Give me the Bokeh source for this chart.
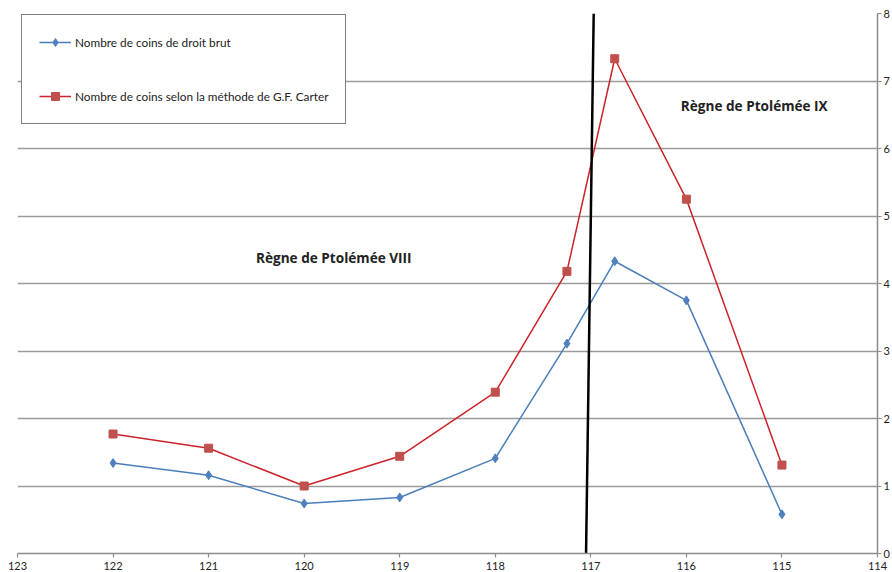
from bokeh.plotting import figure
from bokeh.models import Range1d, FixedTicker, Legend, LegendItem, ColumnDataSource
from bokeh.core.properties import value
from bokeh.embed import file_html
from bokeh.resources import INLINE

# ---- data ----
years = [122, 121, 120, 119, 118, 117.25, 116.75, 116, 115]
raw_counts = [1.34, 1.16, 0.74, 0.83, 1.41, 3.11, 4.33, 3.75, 0.58]
carter_counts = [1.77, 1.56, 1.00, 1.44, 2.39, 4.18, 7.33, 5.25, 1.31]
x_ticks = [123, 122, 121, 120, 119, 118, 117, 116, 115, 114]
y_ticks = [0, 1, 2, 3, 4, 5, 6, 7, 8]
boundary_x = [116.97, 117.05]
boundary_y = [8, 0]
labels_text = ["Règne de Ptolémée VIII", "Règne de Ptolémée IX"]
labels_x = [119.69, 115.29]
labels_y = [4.39, 6.63]

FONT = "Lato"

p = figure(width=892, height=572, output_backend="svg", toolbar_location=None,
           x_range=Range1d(123, 114), y_range=Range1d(0, 8),
           y_axis_location="right")
p.min_border_left = 17
p.min_border_top = 13
p.min_border_right = 4
p.min_border_bottom = 4
p.outline_line_color = None
p.background_fill_color = "white"

# axes
p.xaxis.ticker = FixedTicker(ticks=x_ticks)
p.yaxis.ticker = FixedTicker(ticks=y_ticks)
for ax in (p.xaxis[0], p.yaxis[0]):
    ax.axis_line_color = "#8c8c8c"
    ax.axis_line_width = 1.5
    ax.major_tick_line_color = "#8c8c8c"
    ax.major_tick_line_width = 1.2
    ax.major_tick_out = 4
    ax.major_tick_in = 0
    ax.minor_tick_line_color = None
    ax.major_label_text_font = FONT
    ax.major_label_text_font_size = "11px"
    ax.major_label_text_color = "#222222"
p.xaxis.major_label_standoff = 4
p.yaxis.major_label_standoff = 2

p.xgrid.grid_line_color = None
p.ygrid.grid_line_color = "#9a9a9a"
p.ygrid.grid_line_width = 1.5

# series
src = ColumnDataSource(dict(x=years, raw=raw_counts, carter=carter_counts))
l1 = p.line("x", "raw", source=src, line_color="#4A7EBB", line_width=1.5)
m1 = p.scatter("x", "raw", source=src, marker="diamond", size=9,
               fill_color="#4F81BD", line_color="#4F81BD")
l2 = p.line("x", "carter", source=src, line_color="#CC2229", line_width=1.5)
m2 = p.scatter("x", "carter", source=src, marker="square", size=8,
               fill_color="#C0504D", line_color="#C0504D")

# boundary line
p.line(boundary_x, boundary_y, line_color="black", line_width=2.5)

# annotations
p.text(x=labels_x, y=labels_y, text=labels_text, text_font=value("Open Sans"),
       text_font_style="bold", text_font_size="13.6px", text_color="#222222",
       text_align="center", text_baseline="middle")

legend = Legend(items=[
    LegendItem(label="Nombre de coins de droit brut", renderers=[l1, m1]),
    LegendItem(label="Nombre de coins selon la méthode de G.F. Carter", renderers=[l2, m2]),
], location=(4, 429))
legend.border_line_color = "black"
legend.border_line_width = 1.5
legend.background_fill_color = "white"
legend.background_fill_alpha = 1
legend.padding = 17
legend.spacing = 34
legend.label_height = 20
legend.glyph_height = 20
legend.glyph_width = 32
legend.label_standoff = 4
legend.margin = 0
legend.label_text_font = FONT
legend.label_text_font_size = "11.8px"
legend.label_text_color = "#222222"
p.add_layout(legend, "center")

open("out.html", "w").write(file_html(p, INLINE))
